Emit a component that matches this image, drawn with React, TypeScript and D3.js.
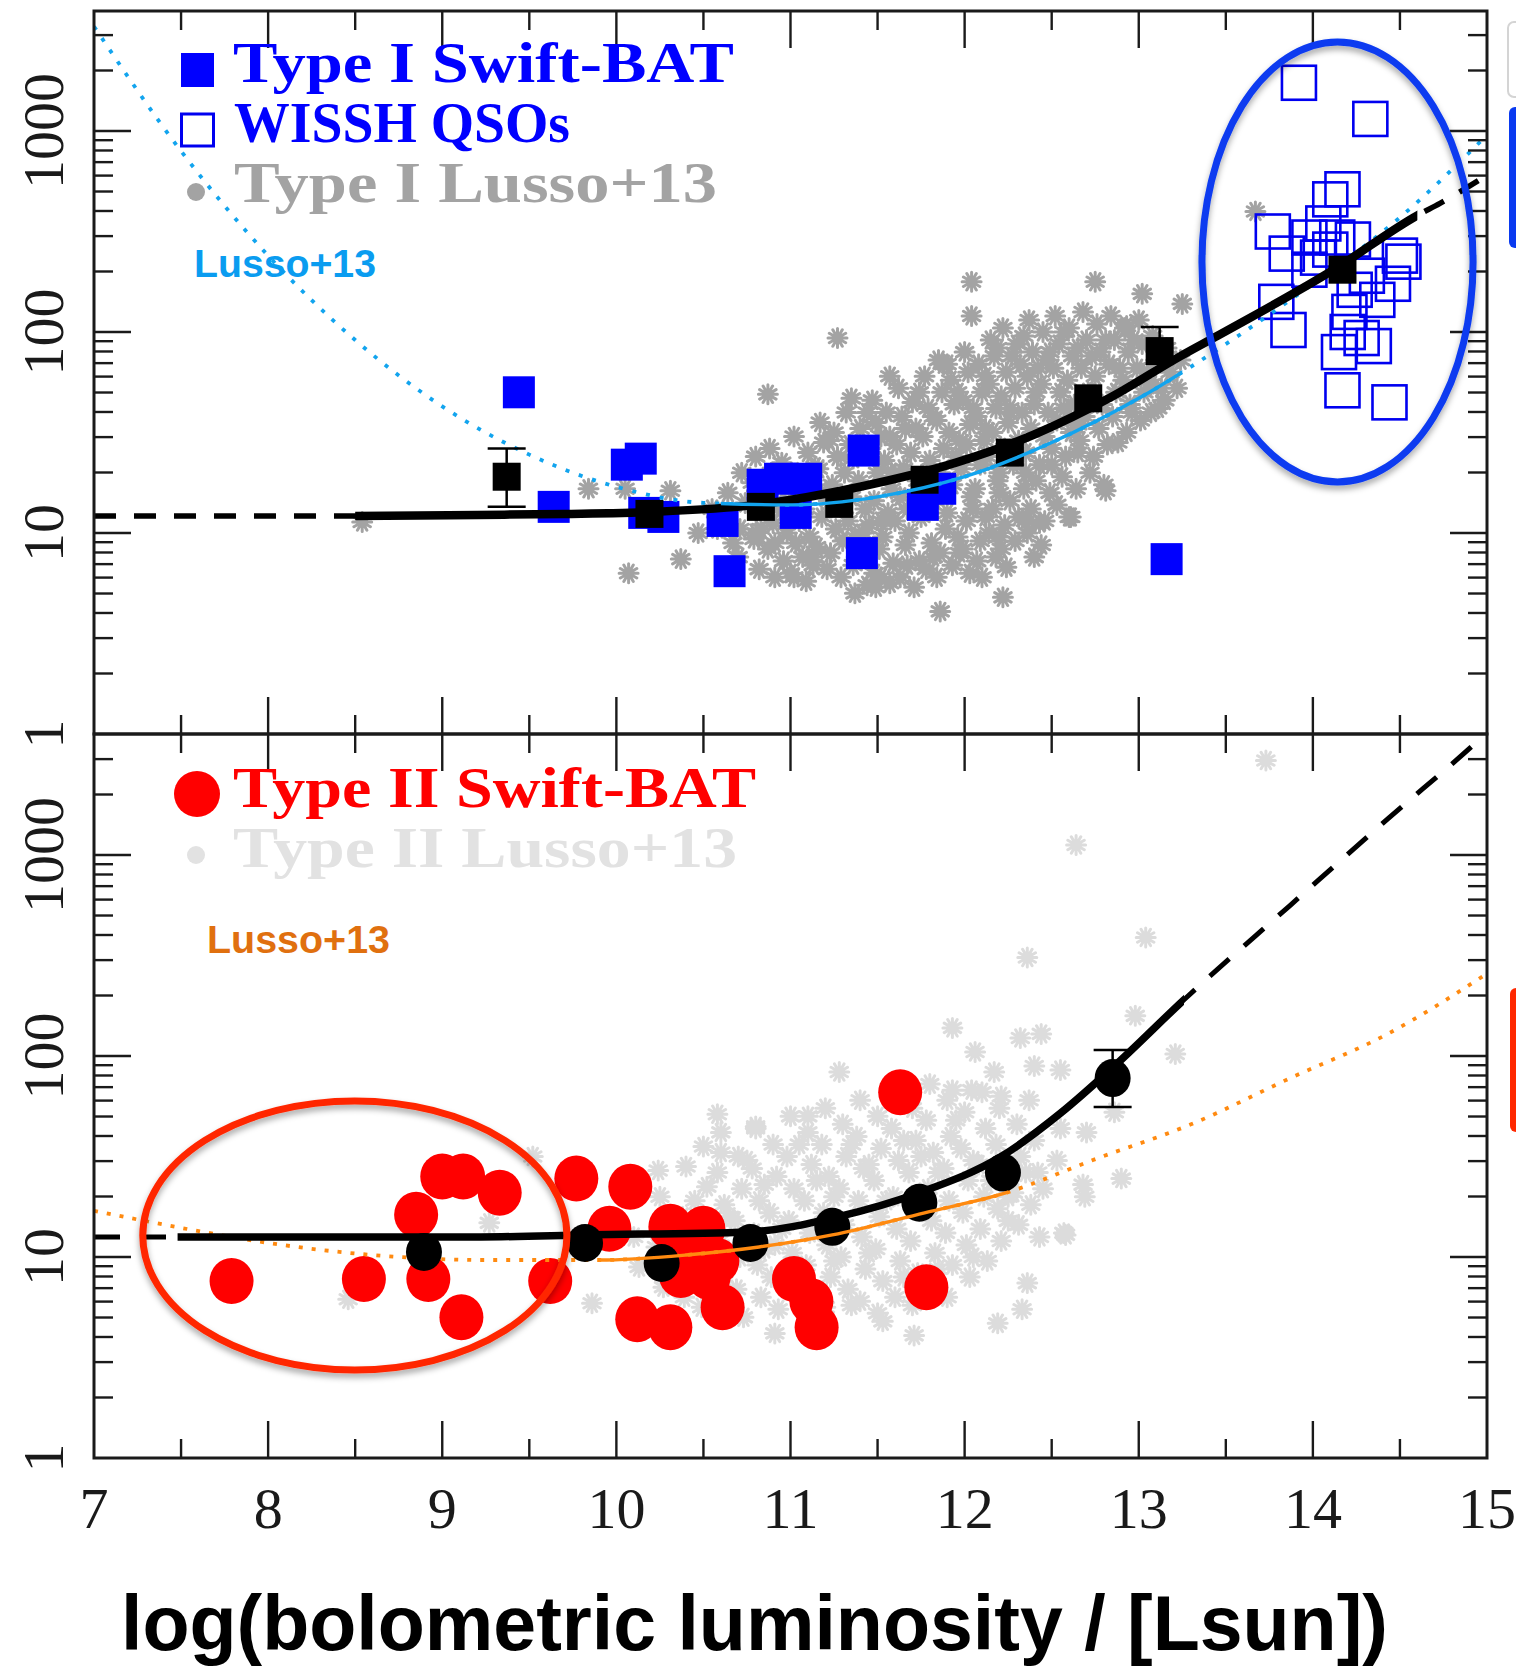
import React from "react";
import * as d3 from "d3";

type Pt = [number, number];

// ---------- axis / text content ----------
const xMajorTicks = [7, 8, 9, 10, 11, 12, 13, 14, 15];
const xMinorTicks = [7.5, 8.5, 9.5, 10.5, 11.5, 12.5, 13.5, 14.5];
const yMajorTicks = [1, 10, 100, 1000];
const yMinorMultipliers = [2, 3, 4, 5, 6, 7, 8, 9];
const xTickLabels = ["7", "8", "9", "10", "11", "12", "13", "14", "15"];
const yTickLabels = ["1", "10", "100", "1000"];
const xAxisTitle = "log(bolometric luminosity / [Lsun])";
const legendTop = ["Type I Swift-BAT", "WISSH QSOs", "Type I Lusso+13"];
const legendBottom = ["Type II Swift-BAT", "Type II Lusso+13"];
const curveLabel = "Lusso+13";

// ---------- data: [log Lbol, log Kbol] ----------
const type1BatPts: Pt[] = [
  [9.44, 1.70], [9.64, 1.13], [10.06, 1.34], [10.14, 1.37], [10.16, 1.10], [10.27, 1.08],
  [10.61, 1.06], [10.65, 0.81], [10.84, 1.24], [10.94, 1.27], [11.09, 1.27], [11.03, 1.10],
  [11.42, 1.41], [11.41, 0.90], [11.76, 1.14], [11.86, 1.22], [13.16, 0.87],
];
const wisshPts: Pt[] = [
  [13.92, 3.24], [14.33, 3.06], [14.17, 2.71], [14.10, 2.66], [13.77, 2.50], [13.85, 2.39],
  [13.98, 2.47], [14.06, 2.54], [14.14, 2.47], [14.23, 2.46], [14.03, 2.37], [14.50, 2.38],
  [14.52, 2.35], [14.46, 2.24], [14.31, 2.28], [13.79, 2.15], [13.86, 2.01], [14.21, 2.10],
  [14.20, 2.00], [14.28, 1.97], [14.35, 1.93], [14.15, 1.90], [14.17, 1.71], [14.44, 1.65],
  [14.10, 2.41], [14.24, 2.21], [14.37, 2.16], [13.98, 2.31],
];
const type1BinPts: Pt[] = [
  [9.37, 1.28], [10.19, 1.095], [10.83, 1.13], [11.28, 1.145], [11.77, 1.265],
  [12.26, 1.40], [12.71, 1.67], [13.12, 1.905], [14.17, 2.31],
];
const type1BinErr: [number, number, number][] = [
  [9.37, 1.13, 1.42],
  [13.12, 1.905, 2.025],
];
const type1LussoPts: Pt[] = [
  [10.55, 1.12], [10.58, 1.02], [10.64, 1.20], [10.67, 0.95], [10.62, 1.08],
  [10.72, 1.30], [10.70, 0.88], [10.74, 1.15], [10.71, 1.02],
  [10.80, 1.38], [10.78, 1.25], [10.83, 1.10], [10.79, 0.97], [10.82, 0.82],
  [10.88, 1.42], [10.86, 1.18], [10.90, 1.05], [10.87, 0.92], [10.91, 0.78], [10.89, 1.30],
  [10.95, 1.35], [10.97, 1.22], [10.94, 1.12], [10.98, 1.00], [10.96, 0.86],
  [11.02, 1.48], [11.04, 1.30], [11.01, 1.16], [11.05, 1.06], [11.03, 0.95], [11.00, 0.80],
  [11.10, 1.40], [11.12, 1.26], [11.08, 1.12], [11.11, 0.98], [11.13, 0.88], [11.09, 0.76],
  [11.17, 1.55], [11.19, 1.45], [11.16, 1.32], [11.20, 1.20], [11.18, 1.08], [11.15, 0.93], [11.21, 0.82],
  [11.25, 1.50], [11.27, 1.38], [11.24, 1.24], [11.28, 1.14], [11.26, 1.02], [11.23, 0.90], [11.29, 0.78],
  [11.32, 1.60], [11.34, 1.44], [11.31, 1.30], [11.35, 1.18], [11.33, 1.06], [11.30, 0.96], [11.36, 0.84],
  [11.40, 1.52], [11.42, 1.40], [11.39, 1.26], [11.43, 1.12], [11.41, 1.00], [11.38, 0.88], [11.44, 0.74],
  [11.47, 1.66], [11.49, 1.55], [11.46, 1.42], [11.50, 1.30], [11.48, 1.16], [11.45, 1.04], [11.51, 0.92], [11.48, 0.80],
  [11.55, 1.60], [11.57, 1.48], [11.54, 1.36], [11.58, 1.22], [11.56, 1.10], [11.53, 0.98], [11.59, 0.85],
  [11.62, 1.72], [11.64, 1.58], [11.61, 1.44], [11.65, 1.32], [11.63, 1.18], [11.60, 1.06], [11.66, 0.94], [11.63, 0.78],
  [11.70, 1.65], [11.72, 1.52], [11.69, 1.40], [11.73, 1.26], [11.71, 1.12], [11.68, 1.00], [11.74, 0.86], [11.71, 0.73],
  [11.77, 1.78], [11.79, 1.62], [11.76, 1.48], [11.80, 1.36], [11.78, 1.20], [11.75, 1.08], [11.81, 0.95], [11.78, 0.82],
  [11.85, 1.86], [11.87, 1.70], [11.84, 1.56], [11.88, 1.42], [11.86, 1.30], [11.83, 1.16], [11.89, 1.02], [11.86, 0.90], [11.84, 0.78],
  [11.92, 1.76], [11.94, 1.64], [11.91, 1.50], [11.95, 1.38], [11.93, 1.24], [11.90, 1.10], [11.96, 0.98], [11.93, 0.84],
  [12.00, 1.90], [12.02, 1.80], [11.99, 1.66], [12.03, 1.54], [12.01, 1.44], [11.98, 1.32], [12.04, 1.18], [12.01, 1.06], [11.99, 0.92], [12.03, 0.80],
  [12.08, 1.84], [12.10, 1.70], [12.07, 1.58], [12.11, 1.46], [12.09, 1.34], [12.06, 1.22], [12.12, 1.08], [12.09, 0.96], [12.07, 0.86],
  [12.15, 1.96], [12.17, 1.88], [12.14, 1.74], [12.18, 1.62], [12.16, 1.50], [12.13, 1.38], [12.19, 1.26], [12.16, 1.12], [12.14, 1.00], [12.18, 0.88],
  [12.22, 2.02], [12.24, 1.80], [12.21, 1.68], [12.25, 1.55], [12.23, 1.42], [12.20, 1.30], [12.26, 1.16], [12.23, 1.04], [12.21, 0.92],
  [12.30, 1.94], [12.32, 1.84], [12.29, 1.72], [12.33, 1.60], [12.31, 1.46], [12.28, 1.34], [12.34, 1.22], [12.31, 1.08], [12.29, 0.96],
  [12.37, 2.06], [12.39, 1.90], [12.36, 1.78], [12.40, 1.64], [12.38, 1.52], [12.35, 1.40], [12.41, 1.26], [12.38, 1.12], [12.36, 1.00],
  [12.45, 2.00], [12.47, 1.86], [12.44, 1.74], [12.48, 1.60], [12.46, 1.48], [12.43, 1.34], [12.49, 1.20], [12.46, 1.06], [12.44, 0.94],
  [12.52, 2.08], [12.54, 1.94], [12.51, 1.82], [12.55, 1.70], [12.53, 1.56], [12.50, 1.42], [12.56, 1.28], [12.53, 1.14],
  [12.60, 2.02], [12.62, 1.88], [12.59, 1.76], [12.63, 1.64], [12.61, 1.50], [12.58, 1.38], [12.64, 1.22], [12.61, 1.08],
  [12.68, 2.10], [12.70, 1.96], [12.67, 1.82], [12.71, 1.70], [12.69, 1.58], [12.66, 1.46], [12.72, 1.30],
  [12.76, 2.04], [12.78, 1.90], [12.75, 1.78], [12.79, 1.64], [12.77, 1.52], [12.74, 1.38], [12.80, 1.24],
  [12.84, 2.08], [12.86, 1.96], [12.83, 1.84], [12.87, 1.70], [12.85, 1.58], [12.82, 1.44],
  [12.92, 2.02], [12.94, 1.90], [12.91, 1.76], [12.95, 1.64], [12.93, 1.50],
  [13.00, 2.06], [13.02, 1.94], [12.99, 1.82], [13.03, 1.70], [13.01, 1.56],
  [13.08, 1.98], [13.10, 1.86], [13.07, 1.74], [13.11, 1.62],
  [13.16, 1.92], [13.18, 1.80], [13.15, 1.66], [13.24, 1.86], [13.22, 1.72],
  // in-between core points
  [11.06, 1.21], [11.14, 1.33], [11.22, 1.46], [11.36, 1.37], [11.44, 1.60], [11.52, 1.48],
  [11.58, 1.30], [11.66, 1.52], [11.74, 1.70], [11.82, 1.58], [11.88, 1.84], [11.96, 1.70],
  [12.05, 1.62], [12.12, 1.78], [12.19, 1.92], [12.27, 1.88], [12.34, 1.98], [12.42, 1.82],
  [12.49, 1.90], [12.57, 2.00], [12.65, 1.92], [12.73, 1.88], [12.81, 1.96], [12.89, 1.82],
  [12.97, 1.96], [13.05, 1.80], [13.13, 1.72], [12.57, 1.62], [12.65, 1.54], [12.41, 1.70],
  [12.26, 1.62], [12.12, 1.52], [11.97, 1.46], [11.82, 1.28], [11.67, 1.12], [11.52, 1.06],
  [11.37, 0.98], [11.22, 1.16], [11.07, 0.88], [10.92, 1.26], [12.05, 1.12], [12.20, 1.20],
  [12.35, 1.30], [12.50, 1.34], [12.65, 1.40], [12.20, 0.98], [12.35, 1.06], [11.97, 0.90],
  [11.82, 0.88], [11.67, 0.84], [11.52, 0.78], [11.37, 0.70], [12.10, 0.78], [12.40, 0.88],
  // scattered outliers
  [8.54, 1.055], [9.84, 1.22], [10.05, 1.22], [10.31, 1.21], [10.47, 1.00], [10.37, 0.87],
  [10.07, 0.80], [10.80, 1.00], [10.87, 1.69], [11.02, 0.78], [11.13, 0.84], [11.49, 0.73],
  [11.57, 0.75], [11.86, 0.61], [12.22, 0.68], [12.24, 0.83], [11.27, 1.97], [12.04, 2.25],
  [12.04, 2.08], [12.75, 2.25], [13.02, 2.19], [13.25, 2.14], [12.93, 2.03], [11.90, 1.84],
  [11.57, 1.78], [11.35, 1.67], [12.88, 1.45], [13.07, 1.60], [12.96, 1.60], [12.81, 1.21],
  [12.60, 1.08], [12.43, 1.05], [13.67, 2.60], [10.91, 0.95], [10.83, 1.02],
];
const type1FitCurve: Pt[] = [
  [7.0, 1.085], [8.5, 1.085], [9.2, 1.09], [9.7, 1.095], [10.2, 1.105], [10.8, 1.14],
  [11.4, 1.23], [11.95, 1.35], [12.4, 1.49], [12.85, 1.68], [13.24, 1.88], [13.45, 1.98],
  [14.12, 2.31], [14.6, 2.58], [14.73, 2.64], [15.0, 2.78],
];
const lussoType1Curve: Pt[] = [
  [7.0, 3.52], [7.5, 2.90], [8.0, 2.38], [8.5, 1.96], [9.0, 1.63], [9.5, 1.39], [10.0, 1.23],
  [10.5, 1.15], [11.0, 1.14], [11.5, 1.18], [12.0, 1.28], [12.5, 1.45], [13.0, 1.67],
  [13.5, 1.94], [14.0, 2.24], [14.5, 2.57], [15.0, 2.98],
];

const type2BatPts: Pt[] = [
  [7.79, 0.88], [8.55, 0.89], [8.85, 1.21], [9.00, 1.40], [9.12, 1.40], [9.33, 1.32],
  [8.92, 0.89], [9.11, 0.70], [9.62, 0.88], [9.77, 1.39], [10.08, 1.35], [9.96, 1.14],
  [10.31, 1.15], [10.50, 1.14], [10.37, 0.91], [10.53, 0.90], [10.12, 0.69], [10.31, 0.65],
  [10.61, 0.75], [11.02, 0.89], [11.12, 0.78], [11.15, 0.65], [11.78, 0.85], [11.63, 1.82],
  [10.42, 0.99], [10.58, 0.98],
];
const type2BinPts: Pt[] = [
  [8.895, 1.025], [9.82, 1.07], [10.26, 0.97], [10.77, 1.07], [11.24, 1.15],
  [11.74, 1.27], [12.22, 1.42], [12.85, 1.89],
];
const type2BinErr: [number, number, number][] = [[12.85, 1.746, 2.03]];
const type2LussoPts: Pt[] = [
  [10.10, 1.10], [10.13, 0.95], [10.25, 1.30], [10.23, 1.05], [10.27, 0.85],
  [10.40, 1.45], [10.38, 1.20], [10.42, 1.00], [10.39, 0.80],
  [10.50, 1.55], [10.52, 1.35], [10.48, 1.15], [10.51, 0.95], [10.49, 0.75],
  [10.60, 1.62], [10.58, 1.42], [10.62, 1.26], [10.59, 1.08], [10.61, 0.90],
  [10.70, 1.50], [10.72, 1.34], [10.68, 1.18], [10.71, 1.00], [10.69, 0.84], [10.73, 0.70],
  [10.80, 1.64], [10.78, 1.44], [10.82, 1.28], [10.79, 1.12], [10.81, 0.96], [10.83, 0.80],
  [10.90, 1.56], [10.92, 1.40], [10.88, 1.22], [10.91, 1.06], [10.89, 0.90], [10.93, 0.74],
  [11.00, 1.70], [10.98, 1.50], [11.02, 1.34], [10.99, 1.18], [11.01, 1.02], [11.03, 0.86],
  [11.10, 1.62], [11.12, 1.46], [11.08, 1.28], [11.11, 1.12], [11.09, 0.96], [11.13, 0.80], [11.10, 0.66],
  [11.20, 1.74], [11.18, 1.56], [11.22, 1.40], [11.19, 1.22], [11.21, 1.06], [11.23, 0.90], [11.20, 0.75],
  [11.30, 1.66], [11.32, 1.50], [11.28, 1.34], [11.31, 1.16], [11.29, 1.00], [11.33, 0.84],
  [11.40, 1.78], [11.38, 1.60], [11.42, 1.44], [11.39, 1.28], [11.41, 1.10], [11.43, 0.94], [11.40, 0.78],
  [11.50, 1.70], [11.52, 1.54], [11.48, 1.38], [11.51, 1.20], [11.49, 1.04], [11.53, 0.88], [11.50, 0.72],
  [11.60, 1.82], [11.58, 1.64], [11.62, 1.48], [11.59, 1.30], [11.61, 1.14], [11.63, 0.98],
  [11.70, 1.74], [11.72, 1.58], [11.68, 1.42], [11.71, 1.24], [11.69, 1.08], [11.73, 0.92], [11.70, 0.76],
  [11.80, 1.86], [11.78, 1.68], [11.82, 1.52], [11.79, 1.34], [11.81, 1.18], [11.83, 1.02], [11.80, 0.86],
  [11.90, 1.78], [11.92, 1.60], [11.88, 1.44], [11.91, 1.28], [11.89, 1.12], [11.93, 0.96], [11.90, 0.80],
  [12.00, 1.72], [11.98, 1.54], [12.02, 1.38], [11.99, 1.22], [12.01, 1.06], [12.03, 0.90],
  [12.10, 1.82], [12.12, 1.64], [12.08, 1.46], [12.11, 1.30], [12.09, 1.14], [12.13, 0.98],
  [12.20, 1.74], [12.18, 1.56], [12.22, 1.40], [12.19, 1.24], [12.21, 1.08],
  [12.30, 1.66], [12.32, 1.50], [12.28, 1.32], [12.31, 1.16],
  [12.40, 1.58], [12.42, 1.42], [12.38, 1.26], [12.55, 1.64], [12.53, 1.48], [12.57, 1.12],
  [12.70, 1.62], [12.68, 1.36],
  // in-between core points
  [10.65, 1.20], [10.75, 1.48], [10.85, 1.36], [10.95, 1.14], [11.05, 1.56], [11.15, 1.38],
  [11.25, 1.30], [11.35, 1.56], [11.45, 1.46], [11.55, 1.28], [11.65, 1.58], [11.75, 1.50],
  [11.85, 1.42], [11.95, 1.68], [12.05, 1.48], [12.15, 1.38], [12.25, 1.30], [12.35, 1.42],
  [12.45, 1.34], [10.85, 1.04], [11.05, 0.94], [11.25, 0.98], [11.45, 1.02], [11.65, 0.90],
  [11.85, 0.94], [12.05, 1.00], [12.25, 1.18], [11.15, 0.72], [11.35, 0.76], [11.60, 0.80],
  [10.60, 1.52], [10.45, 1.28], [10.35, 1.10],
  // scattered outliers
  [13.73, 3.47], [12.64, 3.05], [13.04, 2.59], [12.36, 2.49], [12.98, 2.20], [13.21, 2.01],
  [11.93, 2.14], [11.28, 1.92], [12.44, 2.11], [12.32, 2.09], [12.06, 2.02], [12.40, 1.95],
  [12.55, 1.93], [12.17, 1.92], [11.93, 1.83], [12.04, 1.83], [12.21, 1.80], [12.37, 1.78],
  [12.86, 1.72], [10.58, 1.71], [10.80, 1.65], [11.10, 1.70], [12.70, 1.62], [12.90, 1.39],
  [12.69, 1.30], [12.58, 1.11], [12.43, 1.10], [12.36, 0.87], [12.33, 0.74], [12.19, 0.67],
  [11.53, 0.68], [11.71, 0.61], [10.91, 0.62], [9.86, 0.77], [9.27, 1.17], [10.24, 1.43],
  [8.46, 0.79], [9.52, 1.50],
];
const type2FitCurve: Pt[] = [
  [7.0, 1.10], [7.48, 1.10], [9.22, 1.10], [9.83, 1.11], [10.76, 1.125], [11.27, 1.20],
  [11.74, 1.32], [12.21, 1.50], [12.55, 1.715], [12.86, 1.95], [13.26, 2.28], [13.87, 2.75],
  [14.43, 3.18], [14.95, 3.57], [15.0, 3.61],
];
const lussoType2Curve: Pt[] = [
  [7.0, 1.23], [7.5, 1.145], [8.0, 1.07], [8.6, 1.01], [9.25, 0.985], [9.9, 0.985],
  [10.4, 1.01], [10.82, 1.05], [11.24, 1.11], [11.77, 1.22], [12.24, 1.32], [12.76, 1.49],
  [13.3, 1.66], [13.87, 1.89], [14.43, 2.11], [15.0, 2.41],
];

// ---------- helpers ----------
const star = (cx: number, cy: number, r: number) => {
  let s = "";
  for (let k = 0; k < 6; k++) {
    const a = (k * Math.PI) / 6;
    const dx = r * Math.cos(a), dy = r * Math.sin(a);
    s += `M${(cx - dx).toFixed(1)},${(cy - dy).toFixed(1)}L${(cx + dx).toFixed(1)},${(cy + dy).toFixed(1)}`;
  }
  return s;
};

export default function App() {
  const W = 1516, H = 1670;
  const X0 = 94, X1 = 1487;
  const x = d3.scaleLinear().domain([7, 15]).range([X0, X1]);
  const yTopScale = d3.scaleLog().domain([1, 3954]).range([734, 11]);
  const yBotScale = d3.scaleLog().domain([1, 4000]).range([1458, 734]);
  const yt = (L: number) => yTopScale(Math.pow(10, L));
  const yb = (L: number) => yBotScale(Math.pow(10, L));

  const lineT = d3.line<Pt>().x((d) => x(d[0])).y((d) => yt(d[1])).curve(d3.curveMonotoneX);
  const lineB = d3.line<Pt>().x((d) => x(d[0])).y((d) => yb(d[1])).curve(d3.curveMonotoneX);

  const tickColor = "#1a1a1a";
  const ML = 37, ml = 19;

  const panelTicks = (ys: any, top: number, bottom: number, maxV: number, key: string) => {
    const els: any[] = [];
    xMajorTicks.forEach((v) => {
      if (v <= 7 || v >= 15) return;
      els.push(<line key={`${key}xt${v}`} x1={x(v)} x2={x(v)} y1={top} y2={top + ML} />);
      els.push(<line key={`${key}xb${v}`} x1={x(v)} x2={x(v)} y1={bottom} y2={bottom - ML} />);
    });
    xMinorTicks.forEach((v) => {
      els.push(<line key={`${key}mxt${v}`} x1={x(v)} x2={x(v)} y1={top} y2={top + ml} />);
      els.push(<line key={`${key}mxb${v}`} x1={x(v)} x2={x(v)} y1={bottom} y2={bottom - ml} />);
    });
    yMajorTicks.forEach((v) => {
      if (v <= 1) return;
      els.push(<line key={`${key}yl${v}`} x1={X0} x2={X0 + ML} y1={ys(v)} y2={ys(v)} />);
      els.push(<line key={`${key}yr${v}`} x1={X1} x2={X1 - ML} y1={ys(v)} y2={ys(v)} />);
    });
    yMajorTicks.forEach((dec) => {
      yMinorMultipliers.forEach((m) => {
        const v = dec * m;
        if (v >= maxV) return;
        els.push(<line key={`${key}myl${v}`} x1={X0} x2={X0 + ml} y1={ys(v)} y2={ys(v)} />);
        els.push(<line key={`${key}myr${v}`} x1={X1} x2={X1 - ml} y1={ys(v)} y2={ys(v)} />);
      });
    });
    return els;
  };

  const topStars = type1LussoPts.map((d) => star(x(d[0]), yt(d[1]), 9.5)).join("");
  const botStars = type2LussoPts.map((d) => star(x(d[0]), yb(d[1]), 9.5)).join("");

  const serif = "'Liberation Serif', 'DejaVu Serif', serif";
  const sans = "'Liberation Sans', Arial, sans-serif";

  const blueEll = { x0: 13.363, x1: 14.92, l0: 1.254, l1: 3.443 };
  const redEll = { x0: 7.28, x1: 9.716, l0: 0.438, l1: 1.776 };

  return (
    <svg
      width={W}
      height={H}
      viewBox={`0 0 ${W} ${H}`}
      style={{ position: "absolute", left: 0, top: 0, background: "#fff" }}
    >
      <defs>
        <clipPath id="clipTop"><rect x={X0} y={11} width={X1 - X0} height={723} /></clipPath>
        <clipPath id="clipBot"><rect x={X0} y={734} width={X1 - X0} height={724} /></clipPath>
        <clipPath id="solidTopBlack"><rect x={x(8.5)} y={0} width={x(14.6) - x(8.5)} height={H} /></clipPath>
        <clipPath id="solidTopBlue"><rect x={x(10.6)} y={0} width={x(13.25) - x(10.6)} height={H} /></clipPath>
        <clipPath id="solidBotBlack"><rect x={x(7.48)} y={0} width={x(13.26) - x(7.48)} height={H} /></clipPath>
        <clipPath id="solidBotOrange"><rect x={x(9.9)} y={0} width={x(12.25) - x(9.9)} height={H} /></clipPath>
        <filter id="shadow" x="-20%" y="-20%" width="140%" height="140%">
          <feDropShadow dx="0" dy="4" stdDeviation="3" floodColor="#000" floodOpacity="0.35" />
        </filter>
      </defs>
      <rect x={0} y={0} width={W} height={H} fill="#fff" />

      {/* ---------- TOP PANEL ---------- */}
      <g clipPath="url(#clipTop)">
        <path d={topStars} stroke="#a3a3a3" strokeWidth={3} strokeLinecap="round" fill="none" />
        {wisshPts.map((d, i) => (
          <rect key={`w${i}`} x={x(d[0]) - 17} y={yt(d[1]) - 17} width={34} height={34}
            fill="none" stroke="#0000f0" strokeWidth={2.6} />
        ))}
        {type1BatPts.map((d, i) => (
          <rect key={`b${i}`} x={x(d[0]) - 16} y={yt(d[1]) - 16} width={32} height={32} fill="#0000ff" />
        ))}
        <path d={lineT(lussoType1Curve) || ""} fill="none" stroke="#12a4ee" strokeWidth={3.8} strokeDasharray="4 10" />
        <path d={lineT(type1FitCurve) || ""} fill="none" stroke="#000" strokeWidth={5.5} strokeDasharray="22 18" />
        <g clipPath="url(#solidTopBlack)">
          <path d={lineT(type1FitCurve) || ""} fill="none" stroke="#000" strokeWidth={8.5} />
        </g>
        {type1BinErr.map((e, i) => (
          <g key={`e1${i}`} stroke="#000" strokeWidth={2.5}>
            <line x1={x(e[0])} x2={x(e[0])} y1={yt(e[1])} y2={yt(e[2])} />
            <line x1={x(e[0]) - 19} x2={x(e[0]) + 19} y1={yt(e[2])} y2={yt(e[2])} />
            {e[1] < type1BinPts.find((p) => p[0] === e[0])![1] && (
              <line x1={x(e[0]) - 19} x2={x(e[0]) + 19} y1={yt(e[1])} y2={yt(e[1])} />
            )}
          </g>
        ))}
        {type1BinPts.map((d, i) => (
          <rect key={`k${i}`} x={x(d[0]) - 14} y={yt(d[1]) - 14} width={28} height={28} fill="#000" />
        ))}
        <g clipPath="url(#solidTopBlue)">
          <path d={lineT(lussoType1Curve) || ""} fill="none" stroke="#12a4ee" strokeWidth={3.4} />
        </g>
      </g>

      {/* ---------- BOTTOM PANEL ---------- */}
      <g clipPath="url(#clipBot)">
        <path d={botStars} stroke="#dcdcdc" strokeWidth={3} strokeLinecap="round" fill="none" />
        {type2BatPts.map((d, i) => (
          <ellipse key={`r${i}`} cx={x(d[0])} cy={yb(d[1])} rx={22} ry={23} fill="#ff0000" />
        ))}
        <path d={lineB(lussoType2Curve) || ""} fill="none" stroke="#ff8a10" strokeWidth={3.8} strokeDasharray="4 9" />
        <path d={lineB(type2FitCurve) || ""} fill="none" stroke="#000" strokeWidth={5} strokeDasharray="26 20" />
        <g clipPath="url(#solidBotBlack)">
          <path d={lineB(type2FitCurve) || ""} fill="none" stroke="#000" strokeWidth={7.5} />
        </g>
        {type2BinErr.map((e, i) => (
          <g key={`e2${i}`} stroke="#000" strokeWidth={2.5}>
            <line x1={x(e[0])} x2={x(e[0])} y1={yb(e[1])} y2={yb(e[2])} />
            <line x1={x(e[0]) - 19} x2={x(e[0]) + 19} y1={yb(e[2])} y2={yb(e[2])} />
            <line x1={x(e[0]) - 19} x2={x(e[0]) + 19} y1={yb(e[1])} y2={yb(e[1])} />
          </g>
        ))}
        {type2BinPts.map((d, i) => (
          <ellipse key={`kd${i}`} cx={x(d[0])} cy={yb(d[1])} rx={18} ry={19} fill="#000" />
        ))}
        <g clipPath="url(#solidBotOrange)">
          <path d={lineB(lussoType2Curve) || ""} fill="none" stroke="#ff8a10" strokeWidth={3.4} />
        </g>
      </g>

      {/* ---------- frames & ticks ---------- */}
      <g stroke={tickColor} strokeWidth={2.4}>
        {panelTicks(yTopScale, 11, 734, 3954, "t")}
        {panelTicks(yBotScale, 734, 1458, 4000, "b")}
      </g>
      <rect x={X0} y={11} width={X1 - X0} height={723} fill="none" stroke="#1a1a1a" strokeWidth={3} />
      <rect x={X0} y={734} width={X1 - X0} height={724} fill="none" stroke="#1a1a1a" strokeWidth={3} />

      {/* y tick labels */}
      <g fontFamily={serif} fontSize={58} fill="#1a1a1a" textAnchor="middle">
        {yMajorTicks.map((v, i) => (
          <text key={`ylt${v}`} transform={`translate(63,${yTopScale(v)}) rotate(-90)`}>{yTickLabels[i]}</text>
        ))}
        {yMajorTicks.map((v, i) => (
          <text key={`ylb${v}`} transform={`translate(63,${yBotScale(v)}) rotate(-90)`}>{yTickLabels[i]}</text>
        ))}
        {xMajorTicks.map((v, i) => (
          <text key={`xl${v}`} x={x(v)} y={1528}>{xTickLabels[i]}</text>
        ))}
      </g>

      {/* ---------- legends ---------- */}
      <g fontFamily={serif} fontWeight="bold" fontSize={56}>
        <rect x={181} y={53} width={33} height={34} fill="#0000ff" />
        <text x={233} y={82} fill="#0000ff" textLength={501} lengthAdjust="spacingAndGlyphs">{legendTop[0]}</text>
        <rect x={181.5} y={114} width={32} height={32} fill="none" stroke="#0000f0" strokeWidth={3} />
        <text x={234} y={142} fill="#0000ff" textLength={336} lengthAdjust="spacingAndGlyphs">{legendTop[1]}</text>
        <circle cx={196} cy={192} r={9} fill="#a3a3a3" />
        <text x={234} y={202} fill="#a3a3a3" textLength={483} lengthAdjust="spacingAndGlyphs">{legendTop[2]}</text>

        <ellipse cx={197} cy={794} rx={23} ry={23} fill="#ff0000" />
        <text x={233} y={807} fill="#ff0000" textLength={523} lengthAdjust="spacingAndGlyphs">{legendBottom[0]}</text>
        <circle cx={196} cy={855} r={9} fill="#e2e2e2" />
        <text x={233} y={867} fill="#e2e2e2" textLength={504} lengthAdjust="spacingAndGlyphs">{legendBottom[1]}</text>
      </g>
      <g fontFamily={sans} fontWeight="bold" fontSize={38}>
        <text x={194} y={277} fill="#0a9cf0" textLength={182} lengthAdjust="spacingAndGlyphs">{curveLabel}</text>
        <text x={207} y={953} fill="#e0700f" textLength={183} lengthAdjust="spacingAndGlyphs">{curveLabel}</text>
      </g>

      {/* ---------- annotation ellipses ---------- */}
      <ellipse
        cx={(x(blueEll.x0) + x(blueEll.x1)) / 2}
        cy={(yt(blueEll.l0) + yt(blueEll.l1)) / 2}
        rx={(x(blueEll.x1) - x(blueEll.x0)) / 2}
        ry={(yt(blueEll.l0) - yt(blueEll.l1)) / 2}
        fill="none" stroke="#0a3af0" strokeWidth={7} filter="url(#shadow)"
      />
      <ellipse
        cx={(x(redEll.x0) + x(redEll.x1)) / 2}
        cy={(yb(redEll.l0) + yb(redEll.l1)) / 2}
        rx={(x(redEll.x1) - x(redEll.x0)) / 2}
        ry={(yb(redEll.l0) - yb(redEll.l1)) / 2}
        fill="none" stroke="#ff2800" strokeWidth={7} filter="url(#shadow)"
      />

      {/* right-edge fragments */}
      <rect x={1508} y={22} width={24} height={75} rx={6} fill="#fff" stroke="#d4d4d4" strokeWidth={2} />
      <rect x={1509} y={107} width={24} height={141} rx={6} fill="#0a3af0" />
      <rect x={1510} y={988} width={24} height={144} rx={6} fill="#ff2800" />

      {/* x axis title */}
      <text x={121} y={1650} fontFamily={sans} fontWeight="bold" fontSize={77} fill="#000"
        textLength={1267} lengthAdjust="spacingAndGlyphs">{xAxisTitle}</text>
    </svg>
  );
}
